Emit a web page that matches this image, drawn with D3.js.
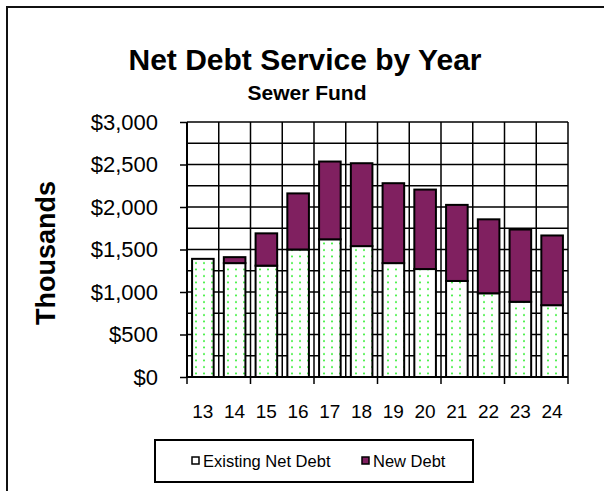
<!DOCTYPE html>
<html>
<head>
<meta charset="utf-8">
<script src="https://cdn.jsdelivr.net/npm/d3@7"></script>
<style>
  body { margin: 0; background: #fff; }
  text { font-family: Arial, "Liberation Sans", sans-serif; }
</style>
</head>
<body>
<script>
// valori (migliaia di $)
const years = ["13", "14", "15", "16", "17", "18", "19", "20", "21", "22", "23", "24"];
const existingDebt = [1390, 1340, 1310, 1500, 1620, 1540, 1340, 1270, 1130, 985, 885, 845];
const newDebt = [0, 70, 380, 660, 915, 975, 940, 935, 895, 870, 850, 820];
const yTicks = [0, 500, 1000, 1500, 2000, 2500, 3000];
const seriesNames = ["Existing Net Debt", "New Debt"];

const W = 609, H = 491;
const plotLeft = 187, plotRight = 568, plotTop = 122, plotBottom = 377;

var svg = d3.select("body")
  .append("svg")
  .attr("width", W)
  .attr("height", H);

// pattern puntinato verde per il debito esistente
var defs = svg.append("defs");
var pat = defs.append("pattern")
  .attr("id", "dots")
  .attr("patternUnits", "userSpaceOnUse")
  .attr("width", 8)
  .attr("height", 6.5);
pat.append("rect").attr("width", 8).attr("height", 6.5).attr("fill", "#fff");
pat.append("circle").attr("cx", 4).attr("cy", 3).attr("r", 1).attr("fill", "#22ee22");

// cornice (solo lato sinistro e superiore visibili)
svg.append("path")
  .attr("d", "M 7 " + H + " L 7 7 L 604 7")
  .attr("fill", "none")
  .attr("stroke", "#111")
  .attr("stroke-width", 2);

var x = d3.scaleBand()
  .domain(years)
  .range([plotLeft, plotRight])
  .paddingInner(0.32)
  .paddingOuter(0.16);

var y = d3.scaleLinear()
  .domain([0, 3000])
  .range([plotBottom, plotTop]);

// griglia orizzontale ogni 250
var grid = svg.append("g");
d3.range(0, 3001, 250).forEach(function (v) {
  grid.append("line")
    .attr("x1", plotLeft).attr("x2", plotRight)
    .attr("y1", y(v)).attr("y2", y(v))
    .attr("stroke", "#000").attr("stroke-width", 1.5);
});
// griglia verticale ai bordi delle categorie
const step = x.step();
for (let i = 0; i <= years.length; i++) {
  let gx = plotLeft + i * step;
  grid.append("line")
    .attr("x1", gx).attr("x2", gx)
    .attr("y1", plotTop).attr("y2", plotBottom)
    .attr("stroke", "#000").attr("stroke-width", 1.5);
}

// barre impilate
var stackData = years.map(function (yr, i) {
  return { year: yr, existing: existingDebt[i], newD: newDebt[i] };
});
var series = d3.stack().keys(["existing", "newD"])(stackData);
var fills = ["url(#dots)", "#802060"];

series.forEach(function (s, k) {
  svg.append("g").selectAll("rect")
    .data(s)
    .join("rect")
    .attr("x", d => x(d.data.year))
    .attr("width", x.bandwidth())
    .attr("y", d => y(d[1]))
    .attr("height", d => y(d[0]) - y(d[1]))
    .attr("fill", fills[k])
    .attr("stroke", "#000")
    .attr("stroke-width", 2)
    .style("display", d => (d[1] - d[0]) > 0 ? null : "none");
});

// assi
var yAxis = svg.append("g")
  .attr("transform", "translate(" + plotLeft + ",0)")
  .call(d3.axisLeft(y).tickValues(yTicks).tickSize(7).tickPadding(22)
    .tickFormat(d => "$" + d3.format(",")(d)));
yAxis.select(".domain").attr("stroke", "#000").attr("stroke-width", 2).attr("d", "M0," + plotTop + "V" + plotBottom);
yAxis.selectAll(".tick line").attr("stroke", "#000").attr("stroke-width", 1.5);
yAxis.selectAll(".tick text").attr("font-size", 22).attr("fill", "#000");

var xTickYears = years.filter((d, i) => i % 2 === 0);
svg.append("g").selectAll("line")
  .data(xTickYears.concat(["end"]))
  .join("line")
  .attr("x1", (d, i) => plotLeft + i * 2 * step)
  .attr("x2", (d, i) => plotLeft + i * 2 * step)
  .attr("y1", plotBottom).attr("y2", plotBottom + 7)
  .attr("stroke", "#000").attr("stroke-width", 1.5);

svg.append("line")
  .attr("x1", plotLeft).attr("x2", plotRight)
  .attr("y1", plotBottom).attr("y2", plotBottom)
  .attr("stroke", "#000").attr("stroke-width", 2);

svg.append("g").selectAll("text")
  .data(years)
  .join("text")
  .attr("x", d => x(d) + x.bandwidth() / 2)
  .attr("y", 418)
  .attr("text-anchor", "middle")
  .attr("font-size", 19)
  .text(d => d);

// titoli
svg.append("text")
  .attr("x", 305).attr("y", 70)
  .attr("text-anchor", "middle")
  .attr("font-size", 30).attr("font-weight", "bold")
  .text("Net Debt Service by Year");
svg.append("text")
  .attr("x", 307).attr("y", 100)
  .attr("text-anchor", "middle")
  .attr("font-size", 21).attr("font-weight", "bold")
  .text("Sewer Fund");
svg.append("text")
  .attr("transform", "translate(55,253) rotate(-90)")
  .attr("text-anchor", "middle")
  .attr("font-size", 27).attr("font-weight", "bold")
  .text("Thousands");

// legenda
var leg = svg.append("g");
leg.append("rect")
  .attr("x", 155).attr("y", 440)
  .attr("width", 318).attr("height", 42)
  .attr("fill", "#fff").attr("stroke", "#000").attr("stroke-width", 2);
var legX = [192, 362];
seriesNames.forEach(function (name, k) {
  leg.append("rect")
    .attr("x", legX[k]).attr("y", 457)
    .attr("width", 7).attr("height", 7)
    .attr("fill", k === 0 ? "#fff" : fills[1])
    .attr("stroke", "#000").attr("stroke-width", 1.5);
  leg.append("text")
    .attr("x", legX[k] + 11).attr("y", 467)
    .attr("font-size", 16.5)
    .text(name);
});
</script>
</body>
</html>
